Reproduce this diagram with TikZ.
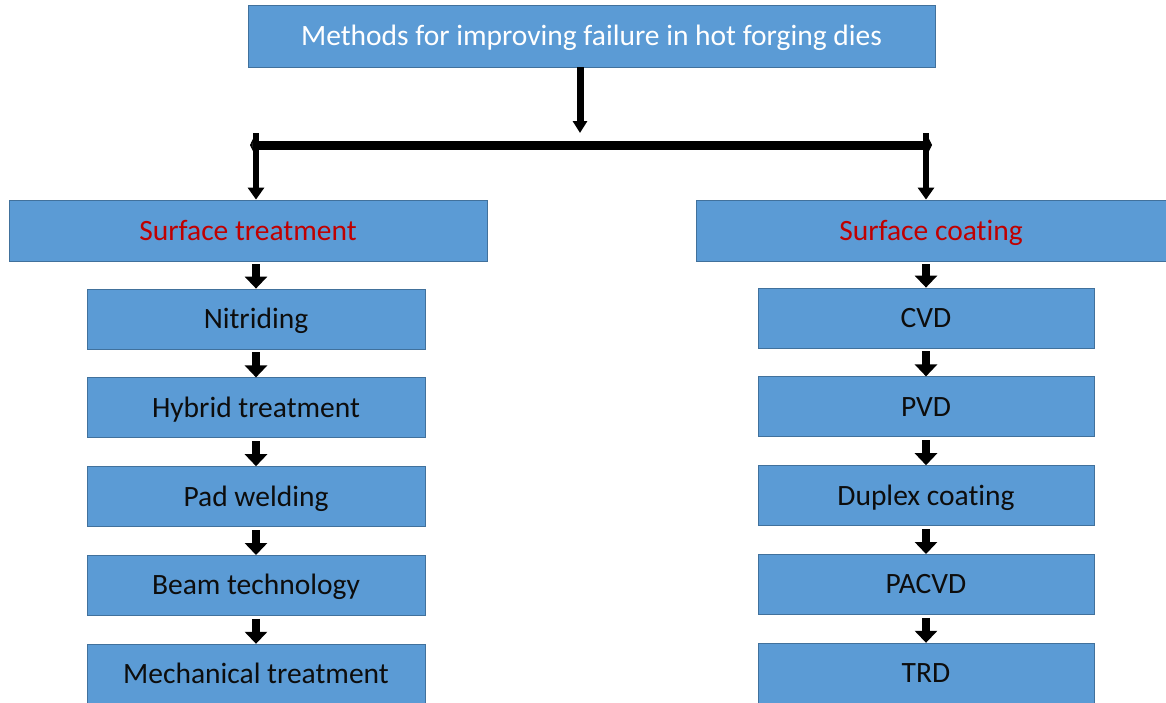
\documentclass[tikz,border=0pt]{standalone}
\usepackage{fontspec}
\setmainfont[Ligatures={NoCommon}]{Carlito}
\usetikzlibrary{positioning,arrows.meta}
\definecolor{boxblue}{HTML}{5B9BD5}
\definecolor{boxedge}{HTML}{41719C}
\definecolor{headred}{HTML}{C00000}

\begin{document}
\begin{tikzpicture}[x=1pt, y=-1pt, node distance=28pt,
    block/.style={rectangle, draw=boxedge, fill=boxblue, line width=0.8pt, minimum width=338pt, minimum height=60pt, inner sep=0pt, text height=22pt, text depth=3pt, text=black!95, font=\fontsize{29.5}{34}\selectfont},
    head/.style={block, minimum height=61pt, text=headred},
    arrow/.style={line width=8pt, -{Triangle[width=22pt,length=12pt]}, shorten <=3pt},
    drop/.style={line width=6pt, -{Triangle[width=16pt,length=12pt]}}]

    \useasboundingbox (0,0) rectangle (1166,702);

    \node[block, minimum width=687pt, minimum height=62pt, text=white] (top) at (591.5,36) {Methods for improving failure in hot forging dies};

    \node[head, minimum width=478pt] (st) at (248,230.5) {Surface treatment};
    \node[head, minimum width=470pt] (sc) at (931,230.5) {Surface coating};

    % left column
    \node[block] (nit) at (256,319) {Nitriding};
    \node[block, below=of nit] (hyb) {Hybrid treatment};
    \node[block, below=of hyb] (pad) {Pad welding};
    \node[block, below=of pad] (beam) {Beam technology};
    \node[block, below=of beam] (mech) {Mechanical treatment};

    % right column
    \node[block, minimum width=336pt] (cvd) at (926,318) {CVD};
    \node[block, minimum width=336pt, below=of cvd] (pvd) {PVD};
    \node[block, minimum width=336pt, below=of pvd] (dup) {Duplex coating};
    \node[block, minimum width=336pt, below=of dup] (pacvd) {PACVD};
    \node[block, minimum width=336pt, below=of pacvd] (trd) {TRD};

    % splitting bar
    \coordinate (split) at (580,133);
    \coordinate (barL) at (250,145);
    \coordinate (barR) at (932,145);
    \coordinate (dropL) at (256,133);
    \coordinate (dropR) at (926,133);

    \draw[line width=7pt, -{Triangle[width=14pt,length=12pt]}] (split |- top.south) -- (split);
    \draw[line width=9pt, {Triangle[width=12pt,length=3pt]}-{Triangle[width=12pt,length=3pt]}] (barL) -- (barR);
    \draw[drop] (dropL) -- (dropL |- st.north);
    \draw[drop] (dropR) -- (dropR |- sc.north);

    \draw[arrow] (st.south -| nit.north) -- (nit);
    \draw[arrow] (nit) -- (hyb);
    \draw[arrow] (hyb) -- (pad);
    \draw[arrow] (pad) -- (beam);
    \draw[arrow] (beam) -- (mech);

    \draw[arrow] (sc.south -| cvd.north) -- (cvd);
    \draw[arrow] (cvd) -- (pvd);
    \draw[arrow] (pvd) -- (dup);
    \draw[arrow] (dup) -- (pacvd);
    \draw[arrow] (pacvd) -- (trd);
\end{tikzpicture}
\end{document}
